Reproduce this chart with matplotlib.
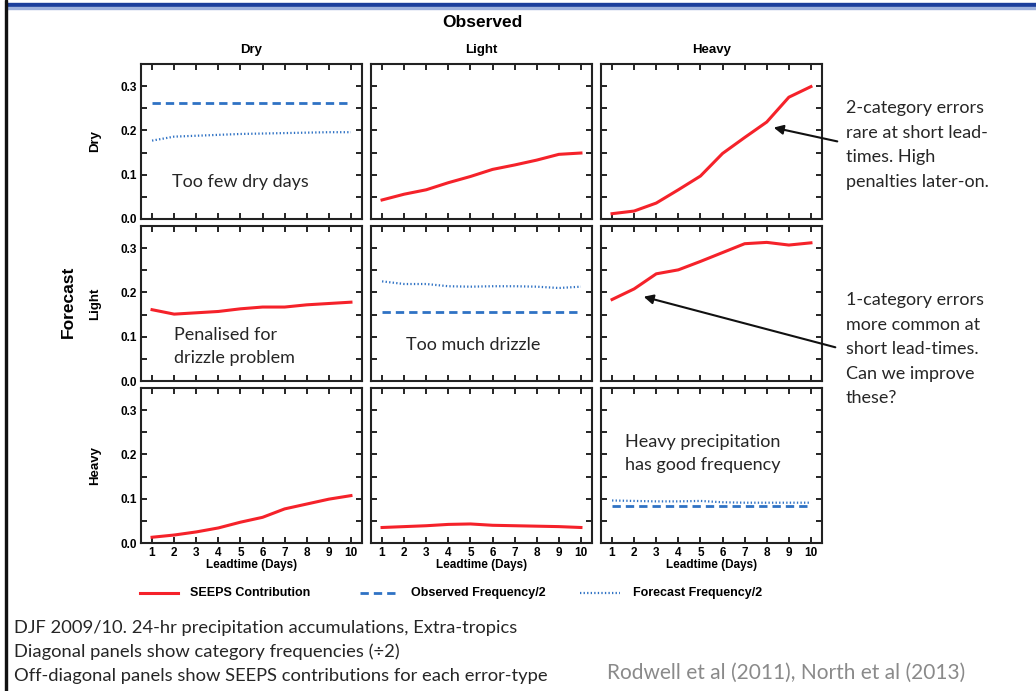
import numpy as np
import matplotlib.pyplot as plt
from matplotlib.lines import Line2D
from matplotlib.patches import Rectangle, FancyArrowPatch
from matplotlib.ticker import MultipleLocator

plt.rcParams['font.family'] = ['Liberation Sans', 'DejaVu Sans']

# Leadtime in days
days = [1, 2, 3, 4, 5, 6, 7, 8, 9, 10]
cats = ['Dry', 'Light', 'Heavy']

# SEEPS contributions for the off-diagonal cells (forecast row, observed column)
seeps_dry_light = [0.043, 0.056, 0.066, 0.082, 0.096, 0.112, 0.122, 0.133, 0.146, 0.149]
seeps_dry_heavy = [0.012, 0.018, 0.036, 0.066, 0.097, 0.148, 0.184, 0.219, 0.275, 0.299]
seeps_light_dry = [0.161, 0.151, 0.154, 0.157, 0.163, 0.167, 0.167, 0.172, 0.175, 0.178]
seeps_light_heavy = [0.184, 0.208, 0.242, 0.251, 0.270, 0.290, 0.310, 0.313, 0.307, 0.312]
seeps_heavy_dry = [0.013, 0.018, 0.025, 0.034, 0.047, 0.058, 0.077, 0.088, 0.099, 0.107]
seeps_heavy_light = [0.035, 0.037, 0.039, 0.042, 0.043, 0.040, 0.039, 0.038, 0.037, 0.035]

# Category frequencies / 2 for the diagonal cells
obs_freq = {'Dry': 0.263, 'Light': 0.155, 'Heavy': 0.083}
fc_freq_dry = [0.177, 0.186, 0.188, 0.190, 0.192, 0.193, 0.194, 0.195, 0.196, 0.196]
fc_freq_light = [0.225, 0.219, 0.219, 0.214, 0.213, 0.214, 0.214, 0.213, 0.210, 0.213]
fc_freq_heavy = [0.096, 0.095, 0.094, 0.094, 0.095, 0.092, 0.091, 0.091, 0.091, 0.091]

legend_labels = ['SEEPS Contribution', 'Observed Frequency/2', 'Forecast Frequency/2']

seeps = {('Dry', 'Light'): seeps_dry_light, ('Dry', 'Heavy'): seeps_dry_heavy,
         ('Light', 'Dry'): seeps_light_dry, ('Light', 'Heavy'): seeps_light_heavy,
         ('Heavy', 'Dry'): seeps_heavy_dry, ('Heavy', 'Light'): seeps_heavy_light}
fc_freq = {'Dry': fc_freq_dry, 'Light': fc_freq_light, 'Heavy': fc_freq_heavy}

red = '#f5222a'
blue = '#2f72c4'
dash = (0, (3, 1.8))
dots = (0, (0.6, 1.0))
note_font = ['Lato', 'DejaVu Sans']
note_col = '#262626'
note_size = 13

W, H = 1036, 691
fig = plt.figure(figsize=(W / 100, H / 100), dpi=100)


def fx(px):
    return px / W


def fy(py):
    return 1 - py / H


# slide frame: blue bar on top, dark rule on the left
fig.patches.append(Rectangle((fx(7), fy(7.5)), 1, 5 / H, transform=fig.transFigure,
                             color='#1c3f9c', zorder=5))
fig.patches.append(Rectangle((fx(7), fy(8.5)), 1, 1.2 / H, transform=fig.transFigure,
                             color='#9fb2dc', zorder=5))
fig.patches.append(Rectangle((fx(5), 0), 2 / W, 1, transform=fig.transFigure,
                             color='#111111', zorder=5))

lefts = [141, 371, 601]
tops = [64, 226, 388]
pw, ph = 221, 155

for r, fc in enumerate(cats):
    for c, ob in enumerate(cats):
        ax = fig.add_axes([fx(lefts[c]), fy(tops[r] + ph), pw / W, ph / H])
        if fc == ob:
            ax.plot(days, [obs_freq[ob]] * len(days), color=blue, lw=2, ls=dash)
            ax.plot(days, fc_freq[fc], color=blue, lw=1.6, ls=dots)
        else:
            ax.plot(days, seeps[(fc, ob)], color=red, lw=2.2)
        ax.set_xlim(0.5, 10.5)
        ax.set_ylim(0, 0.35)
        ax.xaxis.set_major_locator(MultipleLocator(1))
        ax.yaxis.set_major_locator(MultipleLocator(0.1))
        ax.yaxis.set_minor_locator(MultipleLocator(0.05))
        ax.tick_params(which='both', direction='in', top=True, right=True,
                       width=1.2, length=4, labelsize=8.5, pad=3)
        for s in ax.spines.values():
            s.set_linewidth(1.5)
            s.set_color('#222222')
        for lab in ax.get_xticklabels() + ax.get_yticklabels():
            lab.set_fontweight('bold')
        if c == 0:
            ax.set_yticks([0, 0.1, 0.2, 0.3])
            ax.set_yticklabels(['0.0', '0.1', '0.2', '0.3'], fontweight='bold')
            ax.set_ylabel(fc, fontsize=9.5, fontweight='bold', labelpad=14)
        else:
            ax.set_yticklabels([])
        if r == 2:
            ax.set_xlabel('Leadtime (Days)', fontsize=8.5, fontweight='bold', labelpad=0)
        else:
            ax.set_xticklabels([])
        if r == 0:
            ax.set_title(ob, fontsize=9.5, fontweight='bold', pad=8)

        # notes inside the panels
        if (fc, ob) == ('Dry', 'Dry'):
            ax.text(1.9, 0.072, 'Too few dry days', family=note_font, fontsize=note_size,
                    color=note_col)
        if (fc, ob) == ('Light', 'Dry'):
            ax.text(2.0, 0.04, 'Penalised for\ndrizzle problem', family=note_font,
                    fontsize=note_size, color=note_col, linespacing=1.55)
        if (fc, ob) == ('Light', 'Light'):
            ax.text(2.1, 0.07, 'Too much drizzle', family=note_font, fontsize=note_size,
                    color=note_col)
        if (fc, ob) == ('Heavy', 'Heavy'):
            ax.text(1.6, 0.165, 'Heavy precipitation\nhas good frequency', family=note_font,
                    fontsize=note_size, color=note_col, linespacing=1.55)

fig.text(fx(482), fy(22.5), 'Observed', ha='center', va='center', fontsize=12.5,
         fontweight='bold')
fig.text(fx(68), fy(302), 'Forecast', ha='center', va='center', rotation=90,
         fontsize=12.5, fontweight='bold')

# arrows pointing at the Dry/Heavy and Light/Heavy curves
fig.patches.append(FancyArrowPatch((fx(840), fy(142)), (fx(771), fy(127)),
                                   transform=fig.transFigure, arrowstyle='-|>',
                                   mutation_scale=14, lw=1.5, color='#111111'))
fig.patches.append(FancyArrowPatch((fx(838), fy(348)), (fx(641), fy(296)),
                                   transform=fig.transFigure, arrowstyle='-|>',
                                   mutation_scale=14, lw=1.5, color='#111111'))

fig.text(fx(846), fy(100), '2-category errors\nrare at short lead-\ntimes. High\npenalties later-on.',
         ha='left', va='top', family=note_font, fontsize=note_size, color=note_col,
         linespacing=1.66)
fig.text(fx(846), fy(292), '1-category errors\nmore common at\nshort lead-times.\nCan we improve\nthese?',
         ha='left', va='top', family=note_font, fontsize=note_size, color=note_col,
         linespacing=1.66)

# legend row, laid out by hand
leg_y = fy(593)
leg_lines = [(140, 178, red, '-', 2.2), (360, 398, blue, dash, 2), (580, 620, blue, dots, 1.6)]
leg_text_x = [190, 411, 633]
for (x0, x1, col, ls, lw), tx, lab in zip(leg_lines, leg_text_x, legend_labels):
    fig.add_artist(Line2D([fx(x0), fx(x1)], [leg_y, leg_y], transform=fig.transFigure,
                          color=col, ls=ls, lw=lw))
    fig.text(fx(tx), leg_y, lab, va='center', ha='left', fontsize=9, fontweight='bold')

fig.text(fx(14), fy(628), 'DJF 2009/10. 24-hr precipitation accumulations, Extra-tropics',
         va='center', family=note_font, fontsize=13.2, color=note_col)
fig.text(fx(14), fy(652), 'Diagonal panels show category frequencies (÷2)',
         va='center', family=note_font, fontsize=13.2, color=note_col)
fig.text(fx(14), fy(676), 'Off-diagonal panels show SEEPS contributions for each error-type',
         va='center', family=note_font, fontsize=13.2, color=note_col)
fig.text(fx(607), fy(673), 'Rodwell et al (2011), North et al (2013)',
         va='center', family=note_font, fontsize=15, color='#8a8a8a')

fig.savefig('out.png', dpi=100)
